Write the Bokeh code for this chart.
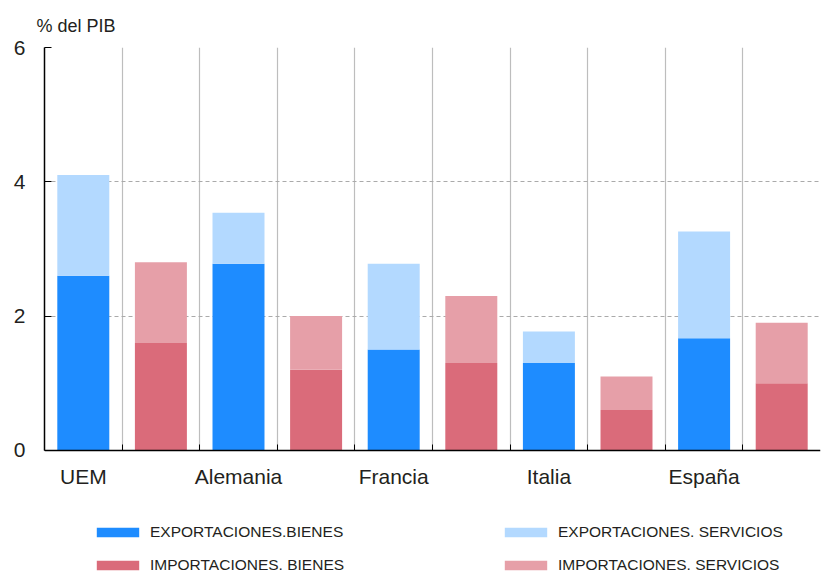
from bokeh.plotting import figure
from bokeh.models import ColumnDataSource, FixedTicker, Legend, LegendItem, Range1d
from bokeh.core.properties import value
from bokeh.embed import file_html
from bokeh.resources import INLINE

# ---- data ----
countries = ["UEM", "Alemania", "Francia", "Italia", "España"]
exp_bienes = [2.6, 2.78, 1.5, 1.3, 1.67]
exp_servicios = [1.5, 0.76, 1.28, 0.47, 1.59]
imp_bienes = [1.6, 1.2, 1.3, 0.6, 1.0]
imp_servicios = [1.2, 0.8, 1.0, 0.5, 0.9]
y_ticks = [0, 2, 4, 6]
series_names = ["EXPORTACIONES.BIENES", "EXPORTACIONES. SERVICIOS",
                "IMPORTACIONES. BIENES", "IMPORTACIONES. SERVICIOS"]
colors = ["#1E8CFF", "#B3D9FF", "#DA6B7A", "#E69FA8"]

FONT = "Liberation Sans"
TXT = "#231F20"

n_slots = 2 * len(countries)
exp_x = [2 * i for i in range(len(countries))]
imp_x = [2 * i + 1 for i in range(len(countries))]
bounds_x = [i + 0.5 for i in range(n_slots - 1)]
y_lo, y_hi = y_ticks[0], y_ticks[-1]

exp_src = ColumnDataSource(dict(x=exp_x, bienes=exp_bienes, servicios=exp_servicios))
imp_src = ColumnDataSource(dict(x=imp_x, bienes=imp_bienes, servicios=imp_servicios))
lab_src = ColumnDataSource(dict(x=exp_x, y=[y_lo] * len(countries), text=countries))

p = figure(width=821, height=576, output_backend="svg", toolbar_location=None,
           x_range=Range1d(-0.5, n_slots - 0.5), y_range=Range1d(-1.85, y_hi),
           min_border_left=44, min_border_right=1, min_border_top=47, min_border_bottom=2)
p.outline_line_color = None

r_exp = p.vbar_stack(["bienes", "servicios"], x="x", width=0.67, source=exp_src,
                     color=colors[:2], line_color=None)
r_imp = p.vbar_stack(["bienes", "servicios"], x="x", width=0.67, source=imp_src,
                     color=colors[2:], line_color=None)

# category labels under the axis line
p.text(x="x", y="y", text="text", source=lab_src, text_align="center",
       text_baseline="top", y_offset=15, text_font=value(FONT),
       text_font_size="21px", text_color=TXT)

# title
p.title.text = "% del PIB"
p.title.text_font = FONT
p.title.text_font_size = "18px"
p.title.text_font_style = "normal"
p.title.text_color = TXT
p.title.offset = -8
p.title.standoff = 24

# y axis
p.yaxis.ticker = FixedTicker(ticks=y_ticks)
p.yaxis.bounds = (y_lo, y_hi)
p.yaxis.major_tick_in = 7
p.yaxis.major_tick_out = 0
p.yaxis.minor_tick_line_color = None
p.yaxis.axis_line_color = "black"
p.yaxis.axis_line_width = 1.5
p.yaxis.major_tick_line_color = "black"
p.yaxis.major_label_text_font = FONT
p.yaxis.major_label_text_font_size = "21px"
p.yaxis.major_label_text_color = TXT
p.yaxis.major_label_standoff = 19

# x axis (line drawn at y=0 inside the frame)
p.xaxis.fixed_location = y_lo
p.xaxis.ticker = FixedTicker(ticks=[], minor_ticks=bounds_x)
p.xaxis.major_tick_line_color = None
p.xaxis.major_label_text_font_size = "0px"
p.xaxis.major_label_standoff = 0
p.xaxis.major_tick_out = 0
p.xaxis.minor_tick_in = 6
p.xaxis.minor_tick_out = 0
p.xaxis.minor_tick_line_color = "black"
p.xaxis.axis_line_color = "black"
p.xaxis.axis_line_width = 1.5

# grids
p.xgrid.ticker = FixedTicker(ticks=bounds_x)
p.xgrid.grid_line_color = "#BDBDBD"
p.xgrid.grid_line_width = 1.2
try:
    p.xgrid.cross_bounds = (y_lo, y_hi)
except Exception:
    p.xgrid.visible = False
    p.segment(x0=bounds_x, y0=[y_lo] * len(bounds_x), x1=bounds_x,
              y1=[y_hi] * len(bounds_x), line_color="#BDBDBD", line_width=1.2)
p.ygrid.ticker = FixedTicker(ticks=y_ticks)
p.ygrid.grid_line_color = "#AAAAAA"
p.ygrid.grid_line_dash = "4 3"


def make_legend(items, loc):
    lg = Legend(items=items, orientation="horizontal", location=loc)
    lg.border_line_color = None
    lg.background_fill_alpha = 0
    lg.glyph_width = 53
    lg.glyph_height = 12
    lg.label_standoff = 6
    lg.label_width = 240
    lg.label_height = 18
    lg.spacing = 109
    lg.label_text_font = FONT
    lg.label_text_font_size = "15.5px"
    lg.label_text_color = TXT
    lg.margin = 0
    lg.padding = 0
    return lg


legend1 = make_legend([
    LegendItem(label=series_names[0], renderers=[r_exp[0]]),
    LegendItem(label=series_names[1], renderers=[r_exp[1]]),
], (47, 33))
legend2 = make_legend([
    LegendItem(label=series_names[2], renderers=[r_imp[0]]),
    LegendItem(label=series_names[3], renderers=[r_imp[1]]),
], (47, 0))
p.add_layout(legend1, "center")
p.add_layout(legend2, "center")

open("out.html", "w").write(file_html(p, INLINE))
